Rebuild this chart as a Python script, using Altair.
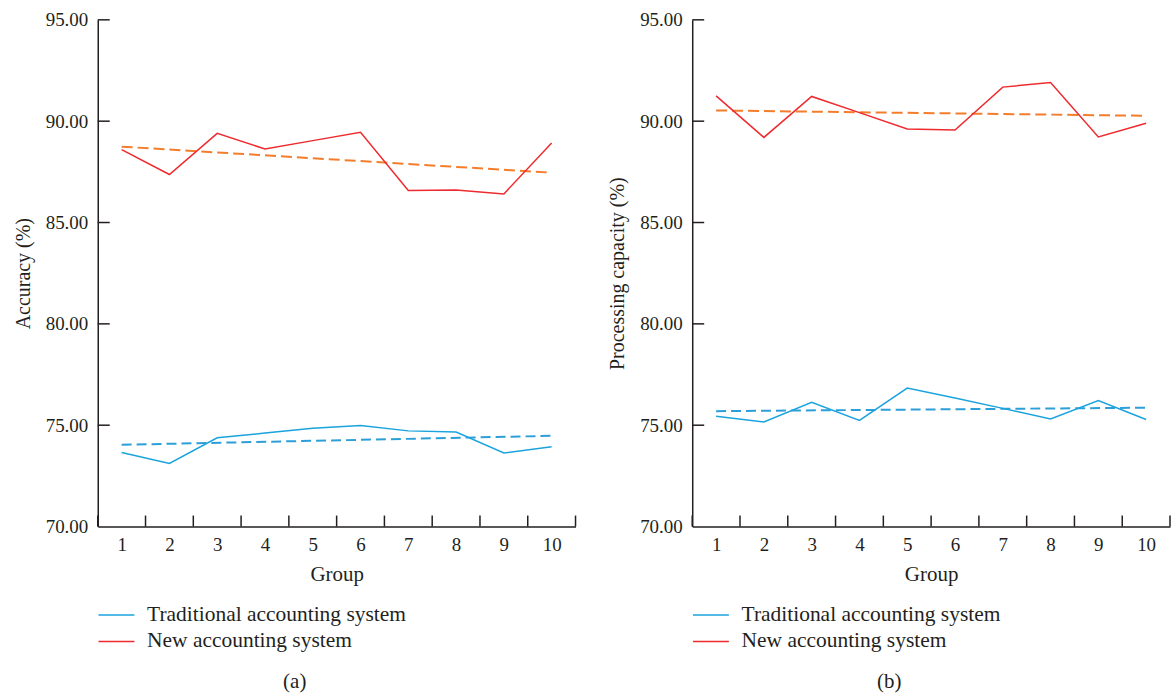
import altair as alt
import pandas as pd

# ---------------- data ----------------
groups = [1, 2, 3, 4, 5, 6, 7, 8, 9, 10]
series_names = ["Traditional accounting system", "New accounting system"]

acc_trad = [73.65, 73.11, 74.38, 74.61, 74.85, 74.99, 74.72, 74.66, 73.63, 73.94]
acc_new = [88.60, 87.37, 89.40, 88.63, 89.04, 89.45, 86.58, 86.61, 86.41, 88.92]
proc_trad = [75.44, 75.16, 76.13, 75.24, 76.83, 76.34, 75.83, 75.31, 76.22, 75.28]
proc_new = [91.25, 89.20, 91.22, 90.42, 89.61, 89.56, 91.68, 91.91, 89.22, 89.90]

y_ticks = [70, 75, 80, 85, 90, 95]
x_tick_marks = [0.5, 1.5, 2.5, 3.5, 4.5, 5.5, 6.5, 7.5, 8.5, 9.5, 10.5]

# ---------------- style ----------------
BLUE = "#1AA3DD"
RED = "#EE2A2E"
ORANGE = "#F47D2C"
BLUE_D = "#2C9FD9"
INK = "#231F20"
FONT = "Liberation Serif"
W, H = 479, 508


def panel(trad, new, ytitle, caption):
    df = pd.DataFrame({
        "group": groups + groups,
        "value": trad + new,
        "series": [series_names[0]] * len(groups) + [series_names[1]] * len(groups),
    })
    x = alt.X("group:Q",
              scale=alt.Scale(domain=[0.5, 10.5], nice=False, zero=False),
              axis=alt.Axis(values=groups, title="Group", ticks=False, tickSize=0,
                            labelPadding=9, titlePadding=9, format="d",
                            labelFont=FONT, labelFontSize=19, labelColor=INK,
                            titleFont=FONT, titleFontSize=21, titleFontWeight="normal",
                            titleColor=INK))
    y = alt.Y("value:Q",
              scale=alt.Scale(domain=[70, 95], nice=False, zero=False),
              axis=alt.Axis(values=y_ticks, format=".2f", title=ytitle, ticks=False,
                            tickSize=0, labelPadding=10, titlePadding=12,
                            labelFont=FONT, labelFontSize=19, labelColor=INK,
                            titleFont=FONT, titleFontSize=20, titleFontWeight="normal",
                            titleColor=INK))
    base = alt.Chart(df)
    lines = base.mark_line(strokeWidth=1.5).encode(
        x=x, y=y,
        color=alt.Color("series:N", sort=series_names,
                        scale=alt.Scale(domain=series_names, range=[BLUE, RED]),
                        legend=alt.Legend(orient="none", legendX=8, legendY=586, title=None,
                                          direction="vertical",
                                          symbolType="M-2,0H2", symbolSize=324,
                                          symbolStrokeWidth=1.5,
                                          labelFont=FONT, labelFontSize=21.5, labelColor=INK,
                                          labelLimit=600,
                                          labelOffset=20, rowPadding=3.5)),
    )
    trend_t = base.transform_filter(alt.datum.series == series_names[0]).transform_regression(
        "group", "value").mark_line(color=BLUE_D, strokeDash=[10, 5], strokeWidth=2).encode(x=x, y=y)
    trend_n = base.transform_filter(alt.datum.series == series_names[1]).transform_regression(
        "group", "value").mark_line(color=ORANGE, strokeDash=[11, 5], strokeWidth=2).encode(x=x, y=y)
    xt = alt.Chart(pd.DataFrame({"group": x_tick_marks})).mark_rule(color=INK, strokeWidth=1.5).encode(
        x=x, y=alt.value(H), y2=alt.value(H - 11))
    yt = alt.Chart(pd.DataFrame({"value": y_ticks[1:]})).mark_rule(color=INK, strokeWidth=1.5).encode(
        y=y, x=alt.value(0), x2=alt.value(12))
    return alt.layer(trend_t, trend_n, lines, xt, yt).properties(
        width=W, height=H,
        title=alt.TitleParams(caption, orient="bottom", anchor="middle", frame="bounds",
                              font=FONT, fontSize=21, fontWeight="normal", color=INK,
                              offset=19),
    )


left = panel(acc_trad, acc_new, "Accuracy (%)", "(a)")
right = panel(proc_trad, proc_new, "Processing capacity (%)", "(b)")

chart = alt.hconcat(left, right, spacing=31).resolve_scale(color="independent").resolve_legend(
    color="independent").configure_view(stroke=None).configure_axis(
    grid=False, domainColor=INK, domainWidth=1.5,
).properties(padding={"left": 13, "top": 10, "right": 0, "bottom": 0}, background="white")

chart.save("out.html", embed_options={"renderer": "svg", "actions": False})
